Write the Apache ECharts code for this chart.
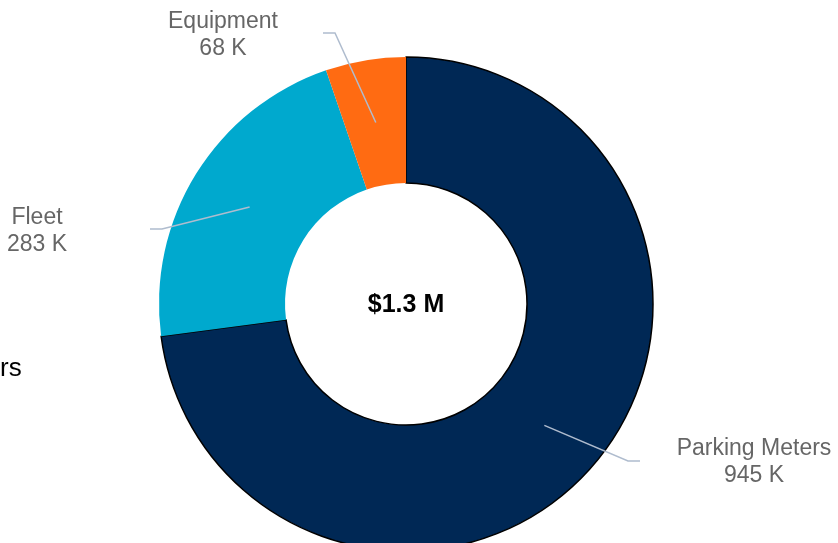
<!DOCTYPE html>
<html>
<head>
<meta charset="utf-8">
<script src="https://cdn.jsdelivr.net/npm/echarts@6/dist/echarts.min.js"></script>
<style>
html, body { margin: 0; padding: 0; background: #fff; }
#chart { width: 838px; height: 543px; }
</style>
</head>
<body>
<div id="chart"></div>
<script type="text/javascript">
// values in thousands of dollars, clockwise from 12 o'clock
var categories = ['Parking Meters', 'Fleet', 'Equipment'];
var values = [945, 283, 68];
var colors = ['#002855', '#00A9CE', '#FF6B12'];

// where each label sits: end of leader line, side of elbow, text centre
var labelSpots = [
    { ex: 640, ey: 461, side: 1, tx: 754, ty: 462 },
    { ex: 150, ey: 229, side: -1, tx: 37, ty: 231 },
    { ex: 323, ey: 33, side: -1, tx: 223, ty: 35 }
];

var total = values.reduce(function (a, b) { return a + b; }, 0);
var totalText = '$' + (total / 1000).toFixed(1) + ' M';

var donutData = categories.map(function (name, i) {
    var item = { name: name, value: values[i], itemStyle: { color: colors[i] } };
    if (i === 0) {
        item.itemStyle.borderColor = '#000';
        item.itemStyle.borderWidth = 1.5;
    }
    return item;
});
var labelData = categories.map(function (name, i) {
    return { name: name, value: values[i] };
});

var myChart = echarts.init(document.getElementById('chart'), null, { renderer: 'canvas' });
var option = {
    animation: false,
    backgroundColor: '#fff',
    graphic: [
        {
            type: 'text', x: 406, y: 305, silent: true,
            style: { text: totalText, font: 'bold 25px "Liberation Sans", Arial, sans-serif', fill: '#000', textAlign: 'center', textVerticalAlign: 'middle' }
        },
        {
            type: 'text', x: 0, y: 369, silent: true,
            style: { text: 'rs', font: '26px "Liberation Sans", Arial, sans-serif', fill: '#000', textAlign: 'left', textVerticalAlign: 'middle' }
        }
    ],
    series: [
        {
            type: 'pie',
            center: [406, 304],
            radius: [121, 247],
            startAngle: 90,
            clockwise: true,
            silent: true,
            label: { show: false },
            labelLine: { show: false },
            data: donutData
        },
        {
            // invisible ring that carries the labels and leader lines
            type: 'pie',
            z: 3,
            center: [406, 304],
            radius: [183, 184],
            startAngle: 90,
            clockwise: true,
            silent: true,
            avoidLabelOverlap: false,
            itemStyle: { color: 'rgba(0,0,0,0)' },
            label: {
                show: true,
                position: 'outside',
                formatter: '{b}\n{c} K',
                fontFamily: '"Liberation Sans", Arial, sans-serif',
                fontSize: 23,
                lineHeight: 27,
                color: '#666666'
            },
            labelLine: {
                show: true,
                length: 20,
                length2: 10,
                lineStyle: { color: '#AFBCCE', width: 1.5 }
            },
            labelLayout: function (params) {
                var s = labelSpots[params.dataIndex];
                var p0 = params.labelLinePoints ? params.labelLinePoints[0] : [s.ex, s.ey];
                return {
                    x: s.tx,
                    y: s.ty,
                    align: 'center',
                    verticalAlign: 'middle',
                    labelLinePoints: [p0, [s.ex - s.side * 12, s.ey], [s.ex, s.ey]]
                };
            },
            data: labelData
        }
    ]
};
myChart.setOption(option);
</script>
</body>
</html>
